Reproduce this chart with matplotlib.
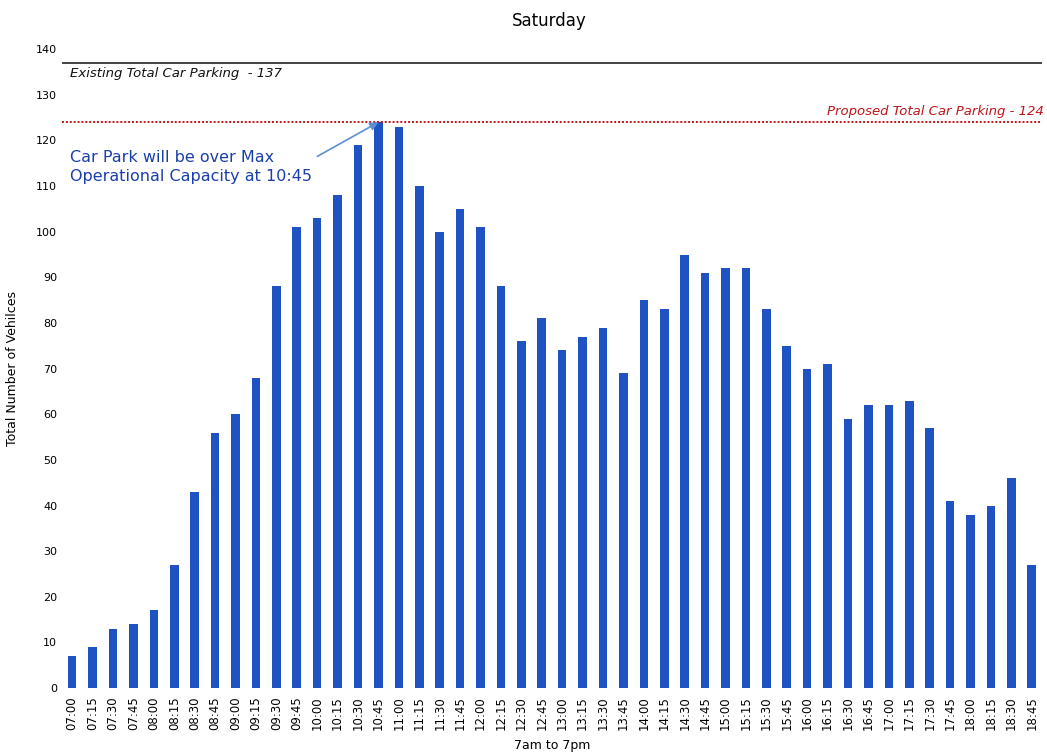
import matplotlib
matplotlib.use("Agg")
import matplotlib.pyplot as plt

times = ["07:00", "07:15", "07:30", "07:45", "08:00", "08:15", "08:30", "08:45",
         "09:00", "09:15", "09:30", "09:45", "10:00", "10:15", "10:30", "10:45",
         "11:00", "11:15", "11:30", "11:45", "12:00", "12:15", "12:30", "12:45",
         "13:00", "13:15", "13:30", "13:45", "14:00", "14:15", "14:30", "14:45",
         "15:00", "15:15", "15:30", "15:45", "16:00", "16:15", "16:30", "16:45",
         "17:00", "17:15", "17:30", "17:45", "18:00", "18:15", "18:30", "18:45"]
vehicles = [7, 9, 13, 14, 17, 27, 43, 56,
            60, 68, 88, 101, 103, 108, 119, 124,
            123, 110, 100, 105, 101, 88, 76, 81,
            74, 77, 79, 69, 85, 83, 95, 91,
            92, 92, 83, 75, 70, 71, 59, 62,
            62, 63, 57, 41, 38, 40, 46, 27]
existing_capacity = 137
proposed_capacity = 124
yticks = list(range(0, 141, 10))

fig = plt.figure(figsize=(10.47, 7.56), dpi=100)
ax = fig.add_axes([0.0592, 0.0899, 0.936, 0.845])

x = list(range(len(times)))
ax.bar(x, vehicles, width=0.42, color="#1f52c2", edgecolor="none")

ax.axhline(existing_capacity, color="#222222", lw=1.2)
ax.axhline(proposed_capacity, color="#c0141a", lw=1.4, ls=(0, (1, 1)))

ax.text(-0.1, existing_capacity - 0.9, "Existing Total Car Parking  - 137",
        fontsize=9.5, style="italic", va="top", ha="left", color="#111111")
ax.text(47.6, proposed_capacity + 0.9, "Proposed Total Car Parking - 124",
        fontsize=9.5, style="italic", va="bottom", ha="right", color="#c0141a")

ax.annotate("Car Park will be over Max\nOperational Capacity at 10:45",
            xy=(15, 124), xytext=(-0.1, 114.2),
            fontsize=11.5, color="#1a3fa8", ha="left", va="center", linespacing=1.4,
            arrowprops=dict(arrowstyle="-|>", color="#5b8fd6", lw=1.2,
                            shrinkA=2, shrinkB=0, mutation_scale=12,
                            relpos=(1.0, 0.72)))

ax.set_xlim(-0.5, len(times) - 0.5)
ax.set_ylim(0, 140)
ax.set_yticks(yticks)
ax.set_yticklabels([str(v) for v in yticks], fontsize=8)
ax.set_xticks(x)
ax.set_xticklabels(times, rotation=90, fontsize=8.5)
ax.tick_params(axis="x", length=0, pad=6)
ax.tick_params(axis="y", length=0)
for s in ax.spines.values():
    s.set_visible(False)

ax.set_ylabel("Total Number of Vehilces", fontsize=9, labelpad=12)
ax.set_xlabel("7am to 7pm", fontsize=9, labelpad=6)
fig.text(0.525, 0.972, "Saturday", ha="center", va="center", fontsize=12)

fig.savefig("out.png", dpi=100)
